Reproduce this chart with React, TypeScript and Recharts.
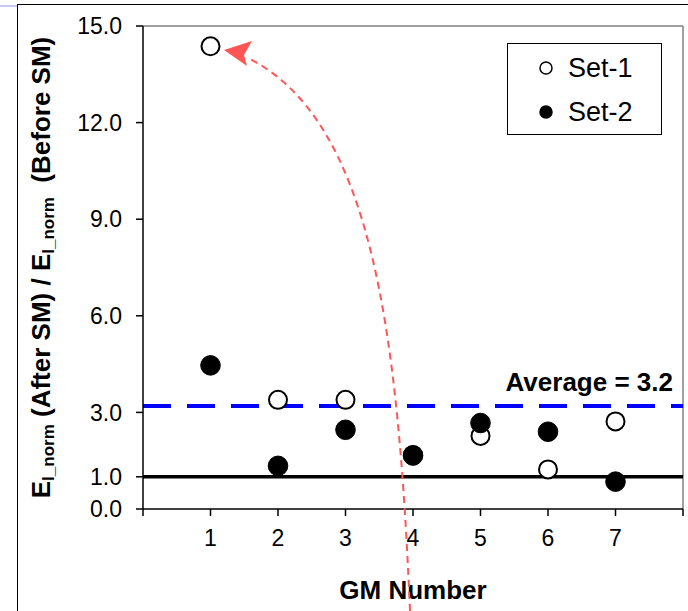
import { ScatterChart, Scatter, XAxis, YAxis, ReferenceLine } from 'recharts'

const gmNumbers = [1, 2, 3, 4, 5, 6, 7]
const set1Values = [14.37, 3.39, 3.39, 1.68, 2.27, 1.23, 2.72]
const set2Values = [4.46, 1.34, 2.46, 1.66, 2.67, 2.4, 0.85]
const yTicks = [0, 1, 3, 6, 9, 12, 15]
const xTicks = [0, 1, 2, 3, 4, 5, 6, 7, 8]
const averageValue = 3.2
const baselineValue = 1

const set1 = gmNumbers.map((gm, i) => ({ gm, value: set1Values[i] }))
const set2 = gmNumbers.map((gm, i) => ({ gm, value: set2Values[i] }))

const FONT = '"Liberation Sans", Arial, sans-serif'

const OpenDot = (p: any) => <circle cx={p.cx} cy={p.cy} r={9} fill="#fff" stroke="#000" strokeWidth={2} />
const FilledDot = (p: any) => <circle cx={p.cx} cy={p.cy} r={9.8} fill="#000" stroke="#000" strokeWidth={1} />

function YLabel(props: any) {
  const vb = props.viewBox || { y: 26, height: 483 }
  const cx = 41
  const cy = vb.y + vb.height / 2
  return (
    <text
      x={cx}
      y={cy}
      transform={`rotate(-90, ${cx}, ${cy})`}
      textAnchor="middle"
      dominantBaseline="central"
      fontFamily={FONT}
      fontWeight="bold"
      fontSize={26}
      fill="#000"
    >
      <tspan>E</tspan>
      <tspan dy={7} fontSize={17}>I_norm</tspan>
      <tspan dy={-7}> (After SM) / E</tspan>
      <tspan dy={7} fontSize={17}>I_norm</tspan>
      <tspan dy={-7}>{'\u00a0 (Before SM)'}</tspan>
    </text>
  )
}

function AverageLabel(props: any) {
  const vb = props.viewBox || { x: 143, y: 406, width: 540 }
  return (
    <text x={vb.x + vb.width - 10} y={vb.y - 15} textAnchor="end" fontFamily={FONT} fontWeight="bold" fontSize={26} fill="#000">
      Average = {averageValue}
    </text>
  )
}

function LegendBox() {
  const row = (filled: boolean, label: string) => (
    <div style={{ display: 'flex', alignItems: 'center', height: 44 }}>
      <svg width={16} height={16} style={{ marginLeft: 30, marginRight: 14 }}>
        <circle cx={8} cy={8} r={6} fill={filled ? '#000' : '#fff'} stroke="#000" strokeWidth={1.5} />
      </svg>
      <span style={{ fontFamily: FONT, fontSize: 27, color: '#000' }}>{label}</span>
    </div>
  )
  return (
    <div style={{ position: 'absolute', left: 507, top: 43, width: 155, height: 92, border: '1px solid #000', background: '#fff', boxSizing: 'border-box', paddingTop: 2 }}>
      {row(false, 'Set-1')}
      {row(true, 'Set-2')}
    </div>
  )
}

export default function App() {
  return (
    <div style={{ position: 'absolute', left: 0, top: 0, width: 688, height: 611, background: '#fff', overflow: 'hidden' }}>
      <div style={{ position: 'absolute', left: 0, top: 5, width: 17, height: 2, background: '#c8c8f0' }} />
      <div style={{ position: 'absolute', left: 17, top: 4, width: 700, height: 700, borderLeft: '1.5px solid #000', borderTop: '1.5px solid #000' }} />
      <ScatterChart width={688} height={611} margin={{ top: 26, right: 5, bottom: 42, left: 83 }} style={{ position: 'absolute', left: 0, top: 0 }}>
        <XAxis
          type="number"
          dataKey="gm"
          domain={[0, 8]}
          ticks={xTicks}
          interval={0}
          tickFormatter={(v: number) => (v === 0 || v === 8 ? '' : String(v))}
          height={60}
          stroke="#000"
          strokeWidth={1.5}
          tickSize={7}
          tickMargin={14}
          tick={{ fontSize: 23, fill: '#000', fontFamily: FONT }}
          label={{ value: 'GM Number', position: 'insideBottom', offset: -30, fontSize: 26, fontWeight: 'bold', fill: '#000', fontFamily: FONT }}
        />
        <YAxis
          type="number"
          dataKey="value"
          domain={[0, 15]}
          ticks={yTicks}
          interval={0}
          tickFormatter={(v: number) => v.toFixed(1)}
          width={60}
          stroke="#000"
          strokeWidth={1.5}
          tickSize={7}
          tickMargin={14}
          tick={{ fontSize: 23, fill: '#000', fontFamily: FONT }}
          label={{ content: YLabel }}
        />
        <ReferenceLine y={15} stroke="#808080" strokeWidth={1.5} />
        <ReferenceLine x={8} stroke="#808080" strokeWidth={1.5} />
        <ReferenceLine y={baselineValue} stroke="#000" strokeWidth={3.5} />
        <ReferenceLine y={averageValue} stroke="#0000ff" strokeWidth={4} strokeDasharray="28 16" label={{ content: AverageLabel }} />
        <Scatter name="Set-1" data={set1} shape={OpenDot} isAnimationActive={false} />
        <Scatter name="Set-2" data={set2} shape={FilledDot} isAnimationActive={false} />
      </ScatterChart>
      <LegendBox />
      <svg width={688} height={611} style={{ position: 'absolute', left: 0, top: 0, pointerEvents: 'none' }}>
        <path d="M 410 611 C 398 330, 372 120, 248 58" fill="none" stroke="#ff5555" strokeWidth={2} strokeDasharray="7 5" />
        <polygon points="224,50 252,41 244,55 247,66" fill="#ff5555" />
      </svg>
    </div>
  )
}
